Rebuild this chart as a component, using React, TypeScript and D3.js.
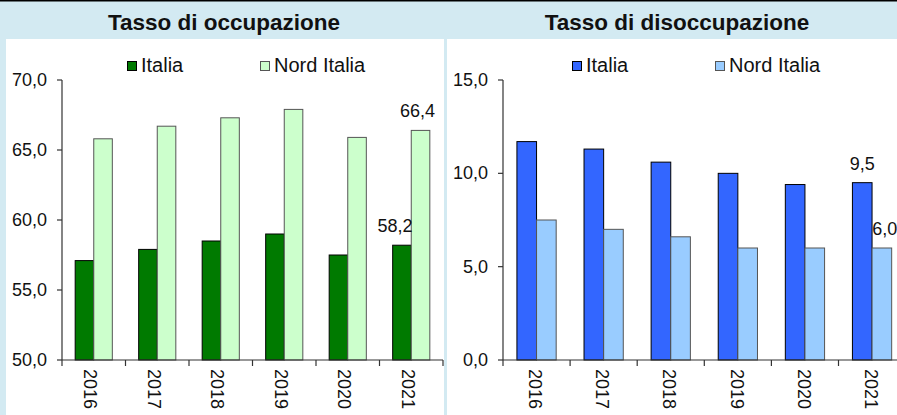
import React from 'react';
import * as d3 from 'd3';

const years = ['2016', '2017', '2018', '2019', '2020', '2021'];
const seriesNames = ['Italia', 'Nord Italia'];
const occItalia = [57.1, 57.9, 58.5, 59.0, 57.5, 58.2];
const occNord = [65.8, 66.7, 67.3, 67.9, 65.9, 66.4];
const disItalia = [11.7, 11.3, 10.6, 10.0, 9.4, 9.5];
const disNord = [7.5, 7.0, 6.6, 6.0, 6.0, 6.0];
const occTicks = [50, 55, 60, 65, 70];
const disTicks = [0, 5, 10, 15];

const W = 897;
const H = 415;
const FONT = 'Liberation Sans, Arial, sans-serif';
const BG = '#d3eaf2';

const fmt = (v: number) => d3.format('.1f')(v).replace('.', ',');

type PanelProps = {
  title: string;
  titleX: number;
  panelX: number;
  panelW: number;
  axisX: number;
  axisEnd: number;
  domain: [number, number];
  ticks: number[];
  a: number[];
  b: number[];
  colors: [string, string];
  legendX: [number, number];
  clipId: string;
  labelDx: [number, number];
  yearDx: number;
};

function Panel(p: PanelProps) {
  const y = d3.scaleLinear().domain(p.domain).range([360, 80]);
  const x = d3.scaleBand<string>().domain(years).range([p.axisX, p.axisEnd]).paddingInner(0).paddingOuter(0);
  const groupW = x.bandwidth() * 0.585;
  const inner = d3.scaleBand<number>().domain([0, 1]).range([0, groupW]);
  const off = (x.bandwidth() - groupW) / 2;
  const series = [p.a, p.b];
  const strokes = ['#000', '#555'];
  const last = years.length - 1;
  return (
    <g>
      <text x={p.titleX} y={30} textAnchor="middle" fontFamily={FONT} fontWeight="bold" fontSize={22.5} fill="#111">
        {p.title}
      </text>
      <rect x={p.panelX} y={39} width={p.panelW} height={H - 39} fill="#fff" />
      <clipPath id={p.clipId}>
        <rect x={p.panelX} y={39} width={p.panelW} height={H - 39} />
      </clipPath>
      <g clipPath={`url(#${p.clipId})`}>
        {/* legend */}
        {seriesNames.map((n, i) => (
          <g key={n}>
            <rect x={p.legendX[i] + 0.5} y={61.5} width={9} height={9} fill={p.colors[i]} stroke={strokes[i]} strokeWidth={1} />
            <text x={p.legendX[i] + 14} y={72} fontFamily={FONT} fontSize={20} fill="#111">
              {n}
            </text>
          </g>
        ))}
        {/* bars */}
        {series.map((vals, si) =>
          vals.map((v, i) => (
            <rect
              key={`${si}-${i}`}
              x={(x(years[i]) as number) + off + (inner(si) as number)}
              y={y(v)}
              width={inner.bandwidth()}
              height={y(p.domain[0]) - y(v)}
              fill={p.colors[si]}
              stroke={strokes[si]}
              strokeWidth={1}
            />
          ))
        )}
        {/* value labels for last year */}
        {series.map((vals, si) => (
          <text
            key={`lab-${si}`}
            x={(x(years[last]) as number) + off + (inner(si) as number) + inner.bandwidth() / 2 + p.labelDx[si]}
            y={y(vals[last]) - 13}
            textAnchor="middle"
            fontFamily={FONT}
            fontSize={18}
            fill="#111"
          >
            {fmt(vals[last])}
          </text>
        ))}
        {/* y axis */}
        <line x1={p.axisX} x2={p.axisX} y1={y(p.domain[1])} y2={y(p.domain[0])} stroke="#333" strokeWidth={1.2} />
        {p.ticks.map((t) => (
          <g key={t}>
            <line x1={p.axisX - 5} x2={p.axisX} y1={y(t)} y2={y(t)} stroke="#333" strokeWidth={1.2} />
            <text x={p.axisX - 15} y={y(t)} dy="0.33em" textAnchor="end" fontFamily={FONT} fontSize={18} fill="#111">
              {fmt(t)}
            </text>
          </g>
        ))}
        {/* x axis */}
        <line x1={p.axisX} x2={p.axisEnd} y1={y(p.domain[0])} y2={y(p.domain[0])} stroke="#333" strokeWidth={1.2} />
        {years.map((yr) => (
          <line
            key={`t${yr}`}
            x1={(x(yr) as number) + x.bandwidth()}
            x2={(x(yr) as number) + x.bandwidth()}
            y1={y(p.domain[0])}
            y2={y(p.domain[0]) + 6}
            stroke="#333"
            strokeWidth={1.2}
          />
        ))}
        <line x1={p.axisX} x2={p.axisX} y1={y(p.domain[0])} y2={y(p.domain[0]) + 6} stroke="#333" strokeWidth={1.2} />
        {years.map((yr) => {
          const cx = (x(yr) as number) + x.bandwidth() / 2 + p.yearDx;
          return (
            <text
              key={`y${yr}`}
              transform={`translate(${cx},369) rotate(90)`}
              dy="0.35em"
              fontFamily={FONT}
              fontSize={18}
              fill="#111"
            >
              {yr}
            </text>
          );
        })}
      </g>
    </g>
  );
}

export default function App() {
  return (
    <svg
      width={W}
      height={H}
      style={{ position: 'absolute', left: 0, top: 0, display: 'block' }}
      xmlns="http://www.w3.org/2000/svg"
    >
      <rect x={0} y={0} width={W} height={H} fill={BG} />
      <line x1={0} x2={W} y1={0.75} y2={0.75} stroke="#000" strokeWidth={1.5} />
      <Panel
        title="Tasso di occupazione"
        titleX={224}
        panelX={6}
        panelW={438}
        axisX={62}
        axisEnd={443}
        domain={[50, 70]}
        ticks={occTicks}
        a={occItalia}
        b={occNord}
        colors={['#007a00', '#ccffcc']}
        legendX={[127, 260]}
        clipId="clipL"
        labelDx={[-7, -3]}
        yearDx={-3}
      />
      <Panel
        title="Tasso di disoccupazione"
        titleX={677}
        panelX={447}
        panelW={450}
        axisX={503}
        axisEnd={905.6}
        domain={[0, 15]}
        ticks={disTicks}
        a={disItalia}
        b={disNord}
        colors={['#3366ff', '#99ccff']}
        legendX={[572, 715]}
        clipId="clipR"
        labelDx={[0, 3]}
        yearDx={-1}
      />
    </svg>
  );
}
